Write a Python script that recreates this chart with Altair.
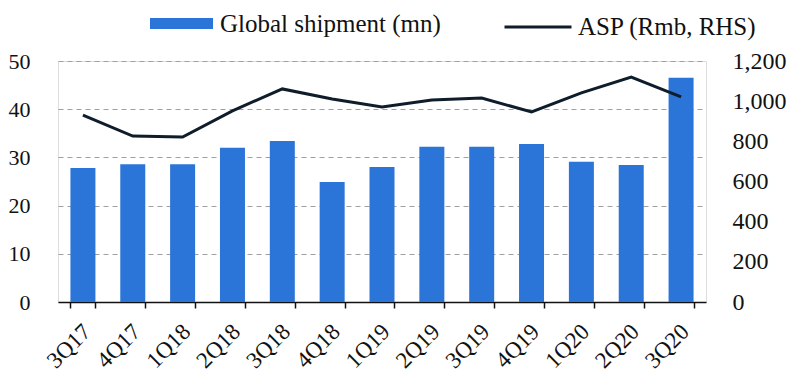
import altair as alt
import pandas as pd

quarters = ["3Q17", "4Q17", "1Q18", "2Q18", "3Q18", "4Q18", "1Q19",
            "2Q19", "3Q19", "4Q19", "1Q20", "2Q20", "3Q20"]
shipment = [27.8, 28.6, 28.6, 32.0, 33.4, 24.9, 28.0, 32.2, 32.2, 32.8, 29.1, 28.4, 46.5]
asp = [931, 826, 821, 952, 1061, 1011, 971, 1006, 1016, 946, 1041, 1120, 1021]

bar_name = "Global shipment (mn)"
line_name = "ASP (Rmb, RHS)"

df = pd.DataFrame({
    "quarter": quarters,
    "shipment": shipment,
    "asp": asp,
    "bar_series": [bar_name] * len(quarters),
    "line_series": [line_name] * len(quarters),
})

FONT = "Liberation Serif"
BLUE = "#2b74d8"
DARK = "#0f1d2b"

x_enc = alt.X(
    "quarter:N", sort=quarters, title=None,
    scale=alt.Scale(paddingInner=0.5, paddingOuter=0.25),
    axis=alt.Axis(
        labelAngle=-45, labelAlign="right", labelBaseline="top",
        labelFontSize=23, labelFont=FONT, labelColor="#111",
        tickBand="extent", tickSize=6, tickColor="#111", tickWidth=1.5,
        domainColor="#111", domainWidth=1.5, grid=False,
        labelPadding=12, labelOffset=-4,
    ),
)

bars = alt.Chart(df).mark_bar(size=25).encode(
    x=x_enc,
    y=alt.Y(
        "shipment:Q", title=None,
        scale=alt.Scale(domain=[0, 50], nice=False),
        axis=alt.Axis(
            orient="left", values=[0, 10, 20, 30, 40, 50],
            labelFontSize=22, labelFont=FONT, labelColor="#111",
            domain=False, ticks=False, labelPadding=28,
            grid=True, gridDash=[5, 4], gridColor="#a0a0a0", gridWidth=1.2,
        ),
    ),
    color=alt.Color(
        "bar_series:N", title=None,
        scale=alt.Scale(domain=[bar_name], range=[BLUE]),
        legend=alt.Legend(
            orient="none", legendX=92, legendY=-69,
            symbolType="M-1,-0.175L1,-0.175L1,0.175L-1,0.175Z",
            symbolSize=3969, symbolStrokeWidth=0,
            labelFontSize=25, labelFont=FONT, labelColor="#111", labelOffset=7,
            labelLimit=0,
        ),
    ),
)

line = alt.Chart(df).mark_line(strokeWidth=3).encode(
    x=alt.X("quarter:N", sort=quarters),
    y=alt.Y(
        "asp:Q", title=None,
        scale=alt.Scale(domain=[0, 1200], nice=False),
        axis=alt.Axis(
            orient="right", values=[0, 200, 400, 600, 800, 1000, 1200], format=",.0f",
            labelFontSize=24, labelFont=FONT, labelColor="#111",
            domain=False, ticks=False, grid=False, labelPadding=26,
        ),
    ),
    stroke=alt.Stroke(
        "line_series:N", title=None,
        scale=alt.Scale(domain=[line_name], range=[DARK]),
        legend=alt.Legend(
            orient="none", legendX=445, legendY=-69,
            symbolType="stroke", symbolSize=4489, symbolStrokeWidth=3,
            labelFontSize=25, labelFont=FONT, labelColor="#111", labelOffset=5,
            labelLimit=0,
        ),
    ),
)

chart = alt.layer(bars, line).resolve_scale(
    y="independent", color="independent", stroke="independent"
).resolve_legend(color="independent", stroke="independent").properties(
    width=648, height=241,
    autosize=alt.AutoSizeParams(type="none"),
    padding={"left": 50, "top": 53, "right": 86, "bottom": 78},
).configure_view(stroke=None).configure(
    background="white", font=FONT
).configure_axis(labelFont=FONT).configure_legend(labelFont=FONT)

chart.save("out.html", embed_options={"renderer": "svg", "actions": False})
